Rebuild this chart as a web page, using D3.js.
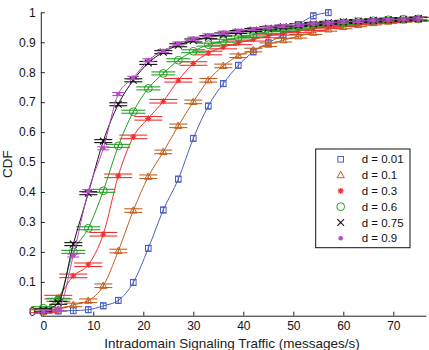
<!DOCTYPE html>
<html><head><meta charset="utf-8">
<script src="https://cdn.jsdelivr.net/npm/d3@7/dist/d3.min.js"></script>
<style>
body{margin:0;background:#fff;}
svg{display:block;font-family:"Liberation Sans",Arial,Helvetica,sans-serif;}
</style></head><body>
<svg id="c" width="429" height="350"></svg>
<script>
// ---- data ----
const xValues = [0,3,6,9,12,15,18,21,24,27,30,33,36,39,42,45,48,51,54,57,60,63,66,69,72,75];
const seriesNames = ["d = 0.01","d = 0.1","d = 0.3","d = 0.6","d = 0.75","d = 0.9"];
const cdf001 = [0.002,0.003,0.004,0.007,0.02,0.038,0.098,0.212,0.34,0.443,0.579,0.687,0.762,0.823,0.868,0.898,0.926,0.959,0.988,0.999];
const cdf01  = [0.001,0.008,0.023,0.037,0.087,0.203,0.338,0.451,0.534,0.621,0.701,0.773,0.821,0.855,0.874,0.892,0.907,0.92,0.932,0.943,0.951,0.958,0.964,0.969,0.973,0.976];
const cdf03  = [0.003,0.049,0.12,0.157,0.259,0.454,0.584,0.646,0.703,0.773,0.829,0.864,0.884,0.898,0.91,0.921,0.93,0.938,0.946,0.953,0.959,0.964,0.968,0.972,0.975,0.977];
const cdf06  = [0.012,0.04,0.2,0.279,0.404,0.554,0.668,0.746,0.796,0.84,0.87,0.892,0.905,0.916,0.926,0.935,0.943,0.95,0.956,0.961,0.965,0.969,0.972,0.975,0.977,0.978];
const cdf075 = [0.005,0.03,0.226,0.396,0.57,0.693,0.773,0.831,0.867,0.89,0.906,0.917,0.926,0.934,0.941,0.947,0.952,0.957,0.961,0.965,0.968,0.971,0.973,0.975,0.977,0.979];
const cdf09  = [0.002,0.01,0.188,0.403,0.546,0.727,0.781,0.84,0.871,0.896,0.912,0.923,0.932,0.938,0.944,0.949,0.954,0.958,0.962,0.965,0.968,0.971,0.973,0.975,0.977,0.979];
const errHalf = [0.01,0.006,0.006,0.005,0.005,0.005];
const xTicks = [0,10,20,30,40,50,60,70];
const yTicks = [0,0.1,0.2,0.3,0.4,0.5,0.6,0.7,0.8,0.9,1];
const xLabel = "Intradomain Signaling Traffic (messages/s)";
const yLabel = "CDF";

// ---- styles ----
const colors = ["#4b5fc4","#c4601f","#ee3030","#22a022","#111111","#b44cc4"];
const markers = ["square","triangle","asterisk","circle","cross","dot"];
const capHalf = [3,9,14,12,9,6];

const allSeries = [cdf001,cdf01,cdf03,cdf06,cdf075,cdf09].map((ys,i)=>({
  name: seriesNames[i], err: errHalf[i],
  pts: ys.map((y,j)=>({x:xValues[j], y:y}))
}));

const svg = d3.select("#c");
const x = d3.scaleLinear().domain([-0.5,76.5]).range([40.8,425.8]);
const y = d3.scaleLinear().domain([-0.013,1]).range([315.7,12.3]);

// axes
const xAxis = d3.axisBottom(x).tickValues(xTicks).tickFormat(d3.format("d")).tickSizeInner(-4).tickSizeOuter(0).tickPadding(6);
const yAxis = d3.axisLeft(y).tickValues(yTicks).tickFormat(d=>d===0?"0":d===1?"1":d3.format(".1f")(d)).tickSizeInner(-4).tickSizeOuter(0).tickPadding(5);
const gx = svg.append("g").attr("transform","translate(0,315.7)").call(xAxis);
const gy = svg.append("g").attr("transform","translate(40.8,0)").call(yAxis);
[gx,gy].forEach(g=>{
  g.selectAll("text").attr("font-size","12px").attr("fill","#111").attr("font-family","'Liberation Sans',Arial,sans-serif");
  g.selectAll("line").attr("stroke","#222");
  g.select(".domain").attr("stroke","#222").attr("stroke-width",1);
});

svg.append("text").attr("x",232).attr("y",347.5).attr("text-anchor","middle")
  .attr("font-size","13.5px").attr("fill","#222").text(xLabel);
svg.append("text").attr("transform","translate(12,164) rotate(-90)").attr("text-anchor","middle")
  .attr("font-size","13.5px").attr("fill","#222").text(yLabel);

function drawMarker(g, type, cx, cy, color){
  if(type==="square"){
    g.append("rect").attr("x",cx-2.8).attr("y",cy-2.8).attr("width",5.6).attr("height",5.6)
      .attr("fill","none").attr("stroke",color).attr("stroke-width",1);
  } else if(type==="triangle"){
    g.append("path").attr("d",`M${cx},${cy-3.8}L${cx+3.6},${cy+2.6}L${cx-3.6},${cy+2.6}Z`)
      .attr("fill","none").attr("stroke",color).attr("stroke-width",1);
  } else if(type==="asterisk"){
    const r=3;
    let d=`M${cx-r},${cy}L${cx+r},${cy}M${cx},${cy-r}L${cx},${cy+r}`;
    const q=r*0.72;
    d+=`M${cx-q},${cy-q}L${cx+q},${cy+q}M${cx-q},${cy+q}L${cx+q},${cy-q}`;
    g.append("path").attr("d",d).attr("stroke",color).attr("stroke-width",1.1).attr("fill","none");
  } else if(type==="circle"){
    g.append("circle").attr("cx",cx).attr("cy",cy).attr("r",3.9)
      .attr("fill","none").attr("stroke",color).attr("stroke-width",1);
  } else if(type==="cross"){
    const r=3.4;
    g.append("path").attr("d",`M${cx-r},${cy-r}L${cx+r},${cy+r}M${cx-r},${cy+r}L${cx+r},${cy-r}`)
      .attr("stroke",color).attr("stroke-width",1.1).attr("fill","none");
  } else if(type==="dot"){
    g.append("circle").attr("cx",cx).attr("cy",cy).attr("r",2.3).attr("fill",color);
  }
}

const line = d3.line().x(d=>x(d.x)).y(d=>y(d.y)).curve(d3.curveMonotoneX);

allSeries.forEach((s,i)=>{
  const g = svg.append("g");
  const c = colors[i];
  g.append("path").attr("d",line(s.pts)).attr("fill","none").attr("stroke",c).attr("stroke-width",1);
  s.pts.forEach(p=>{
    const px=x(p.x), yt=y(p.y+s.err), yb=y(p.y-s.err);
    g.append("line").attr("x1",px).attr("x2",px).attr("y1",yt).attr("y2",yb).attr("stroke",c).attr("stroke-width",1);
    [yt,yb].forEach(yy=>g.append("line").attr("x1",px-capHalf[i]).attr("x2",px+capHalf[i])
      .attr("y1",yy).attr("y2",yy).attr("stroke",c).attr("stroke-width",1.1));
    drawMarker(g, markers[i], px, y(p.y), c);
  });
});

// legend
const lg = svg.append("g");
lg.append("rect").attr("x",315.7).attr("y",149).attr("width",94.3).attr("height",98.7)
  .attr("fill","#fff").attr("stroke","#111").attr("stroke-width",1);
seriesNames.forEach((n,i)=>{
  const yy = 159.3 + i*15.8;
  drawMarker(lg, markers[i], 340.7, yy, colors[i]);
  lg.append("text").attr("x",361.7).attr("y",yy+4).attr("font-size","11.5px").attr("fill","#111").text(n);
});
</script>
</body></html>
